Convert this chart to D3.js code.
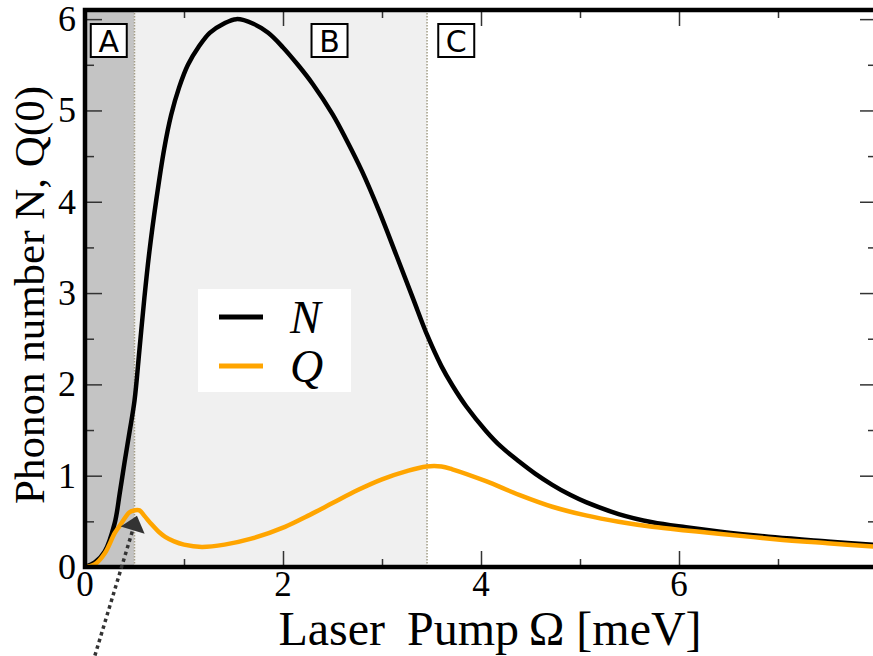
<!DOCTYPE html>
<html><head><meta charset="utf-8">
<script src="https://cdn.jsdelivr.net/npm/d3@7"></script>
<style>body{margin:0;background:#fff}</style>
</head><body><svg id="c" width="873" height="656"></svg>
<script>
// ---- data ----
const omegaN = [0,0.1,0.2,0.3,0.35,0.4,0.45,0.5,0.55,0.6,0.65,0.72,0.8,0.87,0.95,1.04,1.15,1.26,1.4,1.53,1.7,1.85,2.0,2.15,2.3,2.5,2.64,2.8,2.97,3.15,3.31,3.46,3.6,3.71,3.85,4.05,4.2,4.385,4.55,4.72,4.9,5.06,5.39,5.73,6.07,6.4,6.97,7.5,8.0];
const valuesN = [0,0.05,0.17,0.48,0.8,1.15,1.48,1.82,2.38,2.95,3.45,4.02,4.58,4.95,5.25,5.5,5.7,5.85,5.95,6.0,5.95,5.85,5.69,5.5,5.29,4.96,4.68,4.33,3.9,3.4,2.95,2.53,2.2,1.99,1.76,1.49,1.32,1.155,1.02,0.9,0.79,0.71,0.58,0.49,0.435,0.39,0.325,0.28,0.24];
const omegaQ = [0,0.1,0.2,0.3,0.35,0.45,0.5,0.55,0.6,0.67,0.75,0.81,0.9,1.0,1.18,1.41,1.68,2.02,2.25,2.5,2.75,3.0,3.25,3.45,3.6,3.71,4.05,4.385,4.72,5.06,5.39,5.73,6.07,6.4,6.97,7.5,8.0];
const valuesQ = [0,0.03,0.15,0.37,0.45,0.6,0.62,0.62,0.56,0.47,0.38,0.33,0.28,0.245,0.22,0.245,0.31,0.44,0.56,0.7,0.84,0.96,1.05,1.1,1.1,1.07,0.94,0.79,0.66,0.565,0.495,0.44,0.4,0.365,0.305,0.26,0.22];
const xTicksMajor = [0,2,4,6];
const xTicksMinor = [1,3,5,7];
const yTicksMajor = [0,1,2,3,4,5,6];
const yTicksMinor = [0.5,1.5,2.5,3.5,4.5,5.5];
const regionNames = ["A","B","C"];
const regionStart = [0, 0.5, 3.455];
const regionEnd = [0.5, 3.455, 8];
const regionFill = ["#c4c4c4","#f0f0f0","#ffffff"];
const regionLabelX = [0.24, 2.47, 3.75];
const seriesNames = ["N","Q"];
const seriesColors = ["#000000","#ffa500"];
const xLabelParts = ["Laser", "Pump\u2009Ω [meV]"];
const yLabel = "Phonon number N, Q(0)";
const arrowTip = [0.525, 0.56];
const arrowTail = [0.1, -0.97];

// ---- layout ----
const svg = d3.select("#c");
const L = 85, R = 877, T = 10, B = 567;
const x = d3.scaleLinear().domain([0, 8]).range([L, R]);
const y = d3.scaleLinear().domain([0, 6.1]).range([B, T]);
function serif(sel){ return sel.style("font-family", `"Liberation Serif"`); }

svg.append("defs").append("clipPath").attr("id","clip")
  .append("rect").attr("x",L).attr("y",T).attr("width",R-L).attr("height",B-T);

// regions
const reg = svg.append("g");
regionNames.forEach((n,i)=>{
  reg.append("rect").attr("x",x(regionStart[i])).attr("y",T)
    .attr("width",x(regionEnd[i])-x(regionStart[i])).attr("height",B-T)
    .attr("fill",regionFill[i]);
});
regionStart.slice(1).forEach(v=>{
  reg.append("line").attr("x1",x(v)).attr("x2",x(v)).attr("y1",T).attr("y2",B)
    .attr("stroke","#a39d86").attr("stroke-width",1.5).attr("stroke-dasharray","1.5,1.5");
});

// ticks (lines from d3 axes, labels drawn as plain texts)
function styleAxis(g){
  g.select(".domain").remove();
  g.selectAll(".tick line").attr("stroke","#333").attr("stroke-width",1.5);
  g.selectAll(".tick text").remove();
}
svg.append("g").attr("transform",`translate(0,${B})`)
  .call(d3.axisBottom(x).tickValues(xTicksMajor).tickSize(-16)).call(styleAxis);
svg.append("g").attr("transform",`translate(0,${B})`)
  .call(d3.axisBottom(x).tickValues(xTicksMinor).tickSize(-8)).call(styleAxis);
svg.append("g").attr("transform",`translate(0,${T})`)
  .call(d3.axisTop(x).tickValues(xTicksMajor).tickSize(-16)).call(styleAxis);
svg.append("g").attr("transform",`translate(0,${T})`)
  .call(d3.axisTop(x).tickValues(xTicksMinor).tickSize(-8)).call(styleAxis);
svg.append("g").attr("transform",`translate(${L},0)`)
  .call(d3.axisLeft(y).tickValues(yTicksMajor).tickSize(-17)).call(styleAxis);
svg.append("g").attr("transform",`translate(${L},0)`)
  .call(d3.axisLeft(y).tickValues(yTicksMinor).tickSize(-9)).call(styleAxis);
svg.append("g").attr("transform",`translate(${R},0)`)
  .call(d3.axisRight(y).tickValues(yTicksMajor).tickSize(-17)).call(styleAxis);
svg.append("g").attr("transform",`translate(${R},0)`)
  .call(d3.axisRight(y).tickValues(yTicksMinor).tickSize(-9)).call(styleAxis);

// tick labels
xTicksMajor.forEach(v=>{
  serif(svg.append("text")).attr("x",x(v)).attr("y",596).attr("text-anchor","middle")
    .attr("font-size",35).text(String(v));
});
yTicksMajor.forEach(v=>{
  serif(svg.append("text")).attr("x",L-9).attr("y",y(v)+12).attr("text-anchor","end")
    .attr("font-size",36).text(String(v));
});

// region label boxes
regionNames.forEach((n,i)=>{
  const cx = x(regionLabelX[i]);
  svg.append("rect").attr("x",cx-18).attr("y",24).attr("width",36).attr("height",33)
    .attr("fill","#fff").attr("stroke","#000").attr("stroke-width",2);
  svg.append("text").attr("x",cx).attr("y",52).attr("text-anchor","middle")
    .style("font-family",`"DejaVu Sans"`).attr("font-size",30).text(n);
});

// curves
const line = d3.line().x(d=>x(d[0])).y(d=>y(d[1])).curve(d3.curveCatmullRom.alpha(0.5));
const cg = svg.append("g").attr("clip-path","url(#clip)");
cg.append("path").datum(d3.zip(omegaN, valuesN)).attr("d",line)
  .attr("fill","none").attr("stroke",seriesColors[0]).attr("stroke-width",4.5);
cg.append("path").datum(d3.zip(omegaQ, valuesQ)).attr("d",line)
  .attr("fill","none").attr("stroke",seriesColors[1]).attr("stroke-width",4.5);

// legend
svg.append("rect").attr("x",198).attr("y",289).attr("width",153).attr("height",103).attr("fill","#fff");
seriesNames.forEach((n,i)=>{
  const ly = 317 + i*49;
  svg.append("line").attr("x1",219).attr("x2",263).attr("y1",ly).attr("y2",ly)
    .attr("stroke",seriesColors[i]).attr("stroke-width",5);
  serif(svg.append("text")).style("font-style","italic").attr("x",290).attr("y",ly+16)
    .attr("font-size",46).text(n);
});

// frame
svg.append("rect").attr("x",L).attr("y",T).attr("width",R-L).attr("height",B-T)
  .attr("fill","none").attr("stroke","#000").attr("stroke-width",4.5);

// arrow annotation
const tip = [x(arrowTip[0]), y(arrowTip[1])];
const tail = [x(arrowTail[0]), y(arrowTail[1])];
const dx = tip[0]-tail[0], dy = tip[1]-tail[1], len = Math.hypot(dx,dy);
const ux = dx/len, uy = dy/len;
const hl = 15, hw = 12.5;
const base = [tip[0]-ux*hl, tip[1]-uy*hl];
svg.append("line").attr("x1",tail[0]).attr("y1",tail[1]).attr("x2",base[0]).attr("y2",base[1])
  .attr("stroke","#333").attr("stroke-width",3.5).attr("stroke-dasharray","3.5,3.5");
svg.append("path").attr("d",`M${tip[0]},${tip[1]}L${base[0]-uy*hw},${base[1]+ux*hw}L${base[0]+uy*hw},${base[1]-ux*hw}Z`)
  .attr("fill","#333");

// axis titles
const xt = serif(svg.append("text")).attr("x",490).attr("y",645).attr("text-anchor","middle").attr("font-size",48);
xt.append("tspan").text(xLabelParts[0]);
xt.append("tspan").attr("dx",22).text(xLabelParts[1]);
serif(svg.append("text")).attr("transform","translate(44,295) rotate(-90)").attr("text-anchor","middle")
  .attr("font-size",43).text(yLabel);
</script></body></html>
